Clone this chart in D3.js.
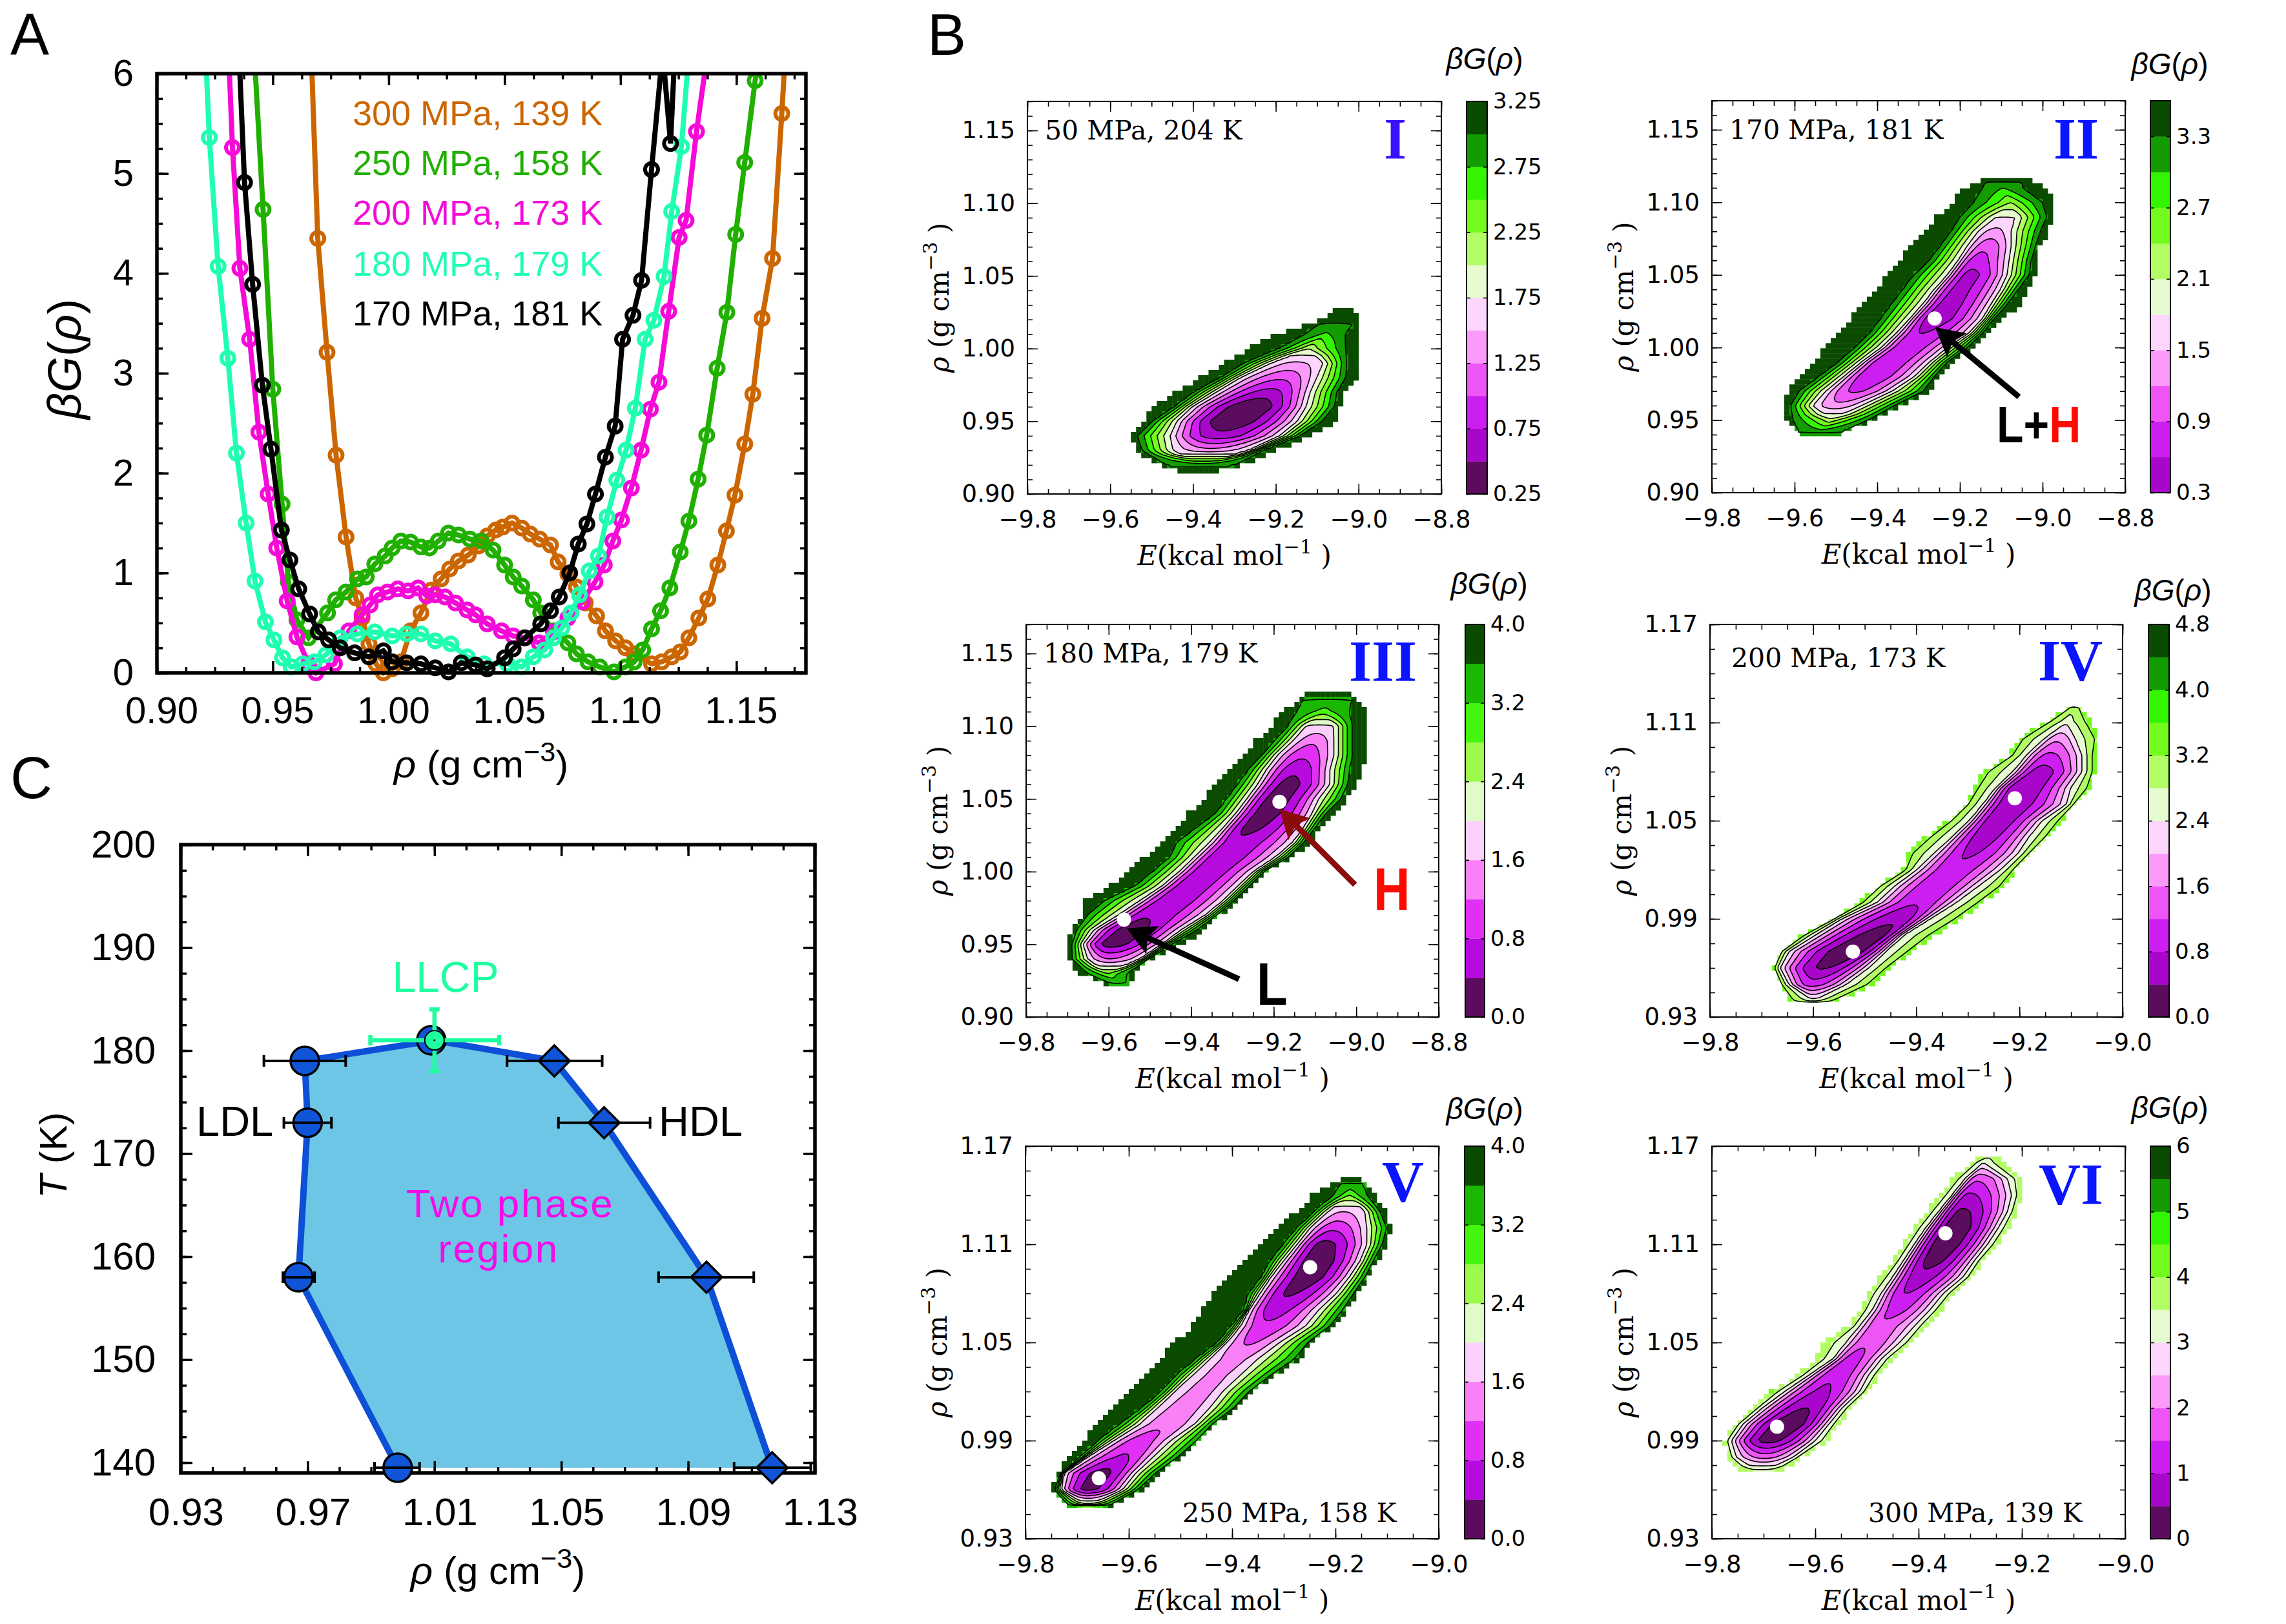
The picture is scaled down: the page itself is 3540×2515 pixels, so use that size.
<!DOCTYPE html>
<html>
<head>
<meta charset="utf-8">
<script src="https://cdn.jsdelivr.net/npm/d3@7"></script>
<style>
  html, body { margin: 0; padding: 0; background: #fff; }
  svg { display: block; }
</style>
</head>
<body>
<div id="chart"></div>
<script>
// ---- panel A: free energy profiles, [rho, betaG]
var curve300 = [[0.9669,6],[0.9694,4.35],[0.9734,3.21],[0.9773,2.18],[0.9816,1.36],[0.9858,0.75],[0.9885,0.55],[0.9915,0.29],[0.9945,0.09],[0.9977,0],[1.0015,0.04],[1.0052,0.11],[1.0094,0.42],[1.0139,0.6],[1.0184,0.83],[1.0226,0.94],[1.0263,1.04],[1.0301,1.12],[1.0343,1.18],[1.0388,1.27],[1.0425,1.37],[1.0462,1.43],[1.0492,1.46],[1.0532,1.5],[1.0574,1.45],[1.0611,1.39],[1.0651,1.34],[1.0698,1.28],[1.0731,1.11],[1.0773,0.99],[1.081,0.86],[1.0848,0.7],[1.0897,0.57],[1.0935,0.42],[1.0979,0.32],[1.1022,0.25],[1.1059,0.19],[1.1134,0.09],[1.1178,0.11],[1.1221,0.16],[1.1258,0.21],[1.1295,0.35],[1.1338,0.55],[1.1377,0.74],[1.142,1.08],[1.1457,1.42],[1.1494,1.78],[1.1536,2.29],[1.1571,2.79],[1.1611,3.55],[1.1656,4.15],[1.1696,5.6],[1.1706,6]];
var curve250 = [[0.9425,6],[0.9458,4.64],[0.95,2.84],[0.954,1.69],[0.9567,0.91],[0.9604,0.53],[0.9654,0.35],[0.9736,0.6],[0.9771,0.73],[0.9816,0.81],[0.9865,0.94],[0.9903,0.96],[0.994,1.09],[0.9985,1.17],[1.0015,1.25],[1.0052,1.32],[1.0094,1.31],[1.0139,1.26],[1.0176,1.25],[1.0214,1.32],[1.0258,1.4],[1.0301,1.38],[1.035,1.34],[1.04,1.32],[1.045,1.23],[1.05,1.08],[1.0537,0.96],[1.0574,0.87],[1.0624,0.73],[1.0656,0.6],[1.0711,0.42],[1.0773,0.3],[1.081,0.19],[1.086,0.11],[1.091,0.06],[1.0972,0.01],[1.1022,0.06],[1.1059,0.11],[1.1096,0.23],[1.1134,0.44],[1.1173,0.62],[1.1213,0.85],[1.1258,1.21],[1.1295,1.52],[1.1335,1.94],[1.1372,2.38],[1.1417,3.05],[1.1459,3.61],[1.1497,4.39],[1.1536,5.11],[1.1581,5.93],[1.1586,6]];
var curve200 = [[0.9313,6],[0.9326,5.26],[0.9358,4.05],[0.94,3.34],[0.944,2.41],[0.948,1.79],[0.9517,1.25],[0.9562,0.72],[0.9604,0.36],[0.9654,0.09],[0.9686,0],[0.9766,0.09],[0.9828,0.42],[0.9885,0.58],[0.992,0.68],[0.9952,0.78],[0.9995,0.81],[1.0039,0.84],[1.0084,0.82],[1.0127,0.85],[1.0164,0.77],[1.0201,0.78],[1.0243,0.76],[1.0288,0.7],[1.0338,0.63],[1.0375,0.58],[1.0425,0.49],[1.0487,0.42],[1.0537,0.37],[1.0587,0.35],[1.0649,0.3],[1.0711,0.41],[1.0773,0.55],[1.0835,0.71],[1.089,0.91],[1.093,1.08],[1.0967,1.32],[1.1004,1.53],[1.1047,1.85],[1.1089,2.23],[1.1129,2.64],[1.1166,2.91],[1.1208,3.62],[1.1253,4.36],[1.1283,4.53],[1.1328,5.42],[1.1363,6]];
var curve180 = [[0.9214,6],[0.9226,5.36],[0.9264,4.07],[0.9306,3.15],[0.9343,2.2],[0.9385,1.5],[0.9423,0.92],[0.9468,0.51],[0.9505,0.33],[0.9542,0.15],[0.9579,0.06],[0.9629,0.09],[0.9679,0.11],[0.9729,0.18],[0.9791,0.35],[0.9865,0.39],[0.994,0.41],[1.0015,0.37],[1.0077,0.39],[1.0139,0.39],[1.0201,0.32],[1.0268,0.29],[1.0338,0.16],[1.0412,0.09],[1.0512,0.09],[1.0574,0.06],[1.0624,0.16],[1.0673,0.23],[1.0711,0.35],[1.0748,0.45],[1.0786,0.6],[1.0823,0.78],[1.0865,1.02],[1.0905,1.17],[1.0942,1.56],[1.0984,1.93],[1.1024,2.23],[1.1064,2.65],[1.1106,3.34],[1.1144,3.53],[1.1188,3.97],[1.1221,4.62],[1.1263,5.27],[1.1288,6]];
var curve170 = [[0.9358,6],[0.9378,4.91],[0.9413,3.89],[0.9455,2.88],[0.9492,2.24],[0.9537,1.43],[0.9574,1.13],[0.9612,0.84],[0.9659,0.59],[0.9696,0.41],[0.9741,0.33],[0.9791,0.25],[0.9853,0.2],[0.9915,0.16],[0.9977,0.22],[1.0015,0.11],[1.0077,0.1],[1.0139,0.09],[1.0201,0.05],[1.0258,0.01],[1.0313,0.1],[1.0375,0.08],[1.0425,0.04],[1.05,0.15],[1.0537,0.24],[1.0587,0.35],[1.0656,0.49],[1.0698,0.62],[1.0736,0.76],[1.0781,1],[1.0818,1.29],[1.0855,1.49],[1.0892,1.79],[1.0935,2.16],[1.0977,2.47],[1.1009,3.34],[1.1054,3.58],[1.1091,3.93],[1.1134,5.04],[1.1173,6],[1.119,6],[1.1216,5.3],[1.123,6]];
var curveNames = ["300 MPa, 139 K", "250 MPa, 158 K", "200 MPa, 173 K", "180 MPa, 179 K", "170 MPa, 181 K"];
var curveColors = ["#cc6600", "#20b000", "#f50ad8", "#1fffb0", "#000000"];
var rhoTicksA = [0.90, 0.95, 1.00, 1.05, 1.10, 1.15];
var gTicksA = [0, 1, 2, 3, 4, 5, 6];

// ---- panel C: coexistence points, [rho, T, rhoLow, rhoHigh]
var ldlPoints = [[0.9984,139.5,0.9911,1.0053],[0.9671,158,0.9622,0.9722],[0.97,173,0.9625,0.9775],[0.9691,179,0.9562,0.982]];
var hdlPoints = [[1.0478,179,1.0329,1.0629],[1.0635,173,1.0491,1.078],[1.0958,158,1.0807,1.1107],[1.1165,139.5,1.1045,1.1287]];
var llcpPoint = [1.01, 181, 0.9898, 1.0304, 178, 184];
var rhoTicksC = [0.93, 0.97, 1.01, 1.05, 1.09, 1.13];
var tTicksC = [140, 150, 160, 170, 180, 190, 200];

// ---- panel B: contour maps
// columns: rho, outer edge L, dark green starts L, pale band starts L, valley E,
//          pale band starts R, dark green starts R, outer edge R, betaG in the valley
var ridgeI = [
  [0.915,-9.428,-9.428,-9.391,-9.391,-9.391,-9.354,-9.354,3.25],
  [0.92,-9.486,-9.465,-9.381,-9.381,-9.381,-9.296,-9.28,2.9],
  [0.93,-9.539,-9.523,-9.449,-9.36,-9.265,-9.233,-9.196,1.35],
  [0.94,-9.548,-9.534,-9.455,-9.339,-9.191,-9.143,-9.117,0.6],
  [0.95,-9.523,-9.497,-9.439,-9.312,-9.148,-9.09,-9.053,0.3],
  [0.96,-9.492,-9.444,-9.402,-9.259,-9.127,-9.059,-9.043,0.28],
  [0.97,-9.444,-9.397,-9.344,-9.217,-9.117,-9.053,-9.032,0.65],
  [0.98,-9.381,-9.333,-9.286,-9.185,-9.101,-9.032,-9.006,1.05],
  [0.99,-9.328,-9.275,-9.212,-9.154,-9.085,-9.03,-9.003,1.45],
  [1.00,-9.265,-9.191,-9.122,-9.122,-9.122,-9.032,-9.003,2.0],
  [1.01,-9.201,-9.127,-9.08,-9.08,-9.08,-9.032,-9.003,2.7],
  [1.02,-9.085,-9.085,-9.043,-9.043,-9.043,-9.003,-9.003,3.1],
  [1.027,-9.053,-9.053,-9.032,-9.032,-9.032,-9.011,-9.011,3.25]
];
var ridgeII = [
  [0.94,-9.588,-9.588,-9.545,-9.545,-9.545,-9.497,-9.497,3.4],
  [0.95,-9.618,-9.604,-9.513,-9.513,-9.513,-9.422,-9.406,2.2],
  [0.96,-9.627,-9.609,-9.556,-9.502,-9.438,-9.358,-9.348,1.3],
  [0.97,-9.618,-9.588,-9.524,-9.454,-9.364,-9.289,-9.268,0.85],
  [0.98,-9.588,-9.54,-9.481,-9.417,-9.31,-9.262,-9.252,0.65],
  [0.99,-9.556,-9.492,-9.438,-9.38,-9.273,-9.23,-9.22,0.62],
  [1.00,-9.524,-9.454,-9.39,-9.332,-9.23,-9.182,-9.166,0.65],
  [1.01,-9.492,-9.417,-9.353,-9.294,-9.177,-9.145,-9.134,0.6],
  [1.02,-9.465,-9.39,-9.321,-9.262,-9.145,-9.118,-9.092,0.4],
  [1.03,-9.433,-9.364,-9.289,-9.23,-9.124,-9.086,-9.054,0.45],
  [1.04,-9.401,-9.337,-9.262,-9.204,-9.102,-9.06,-9.033,0.5],
  [1.05,-9.38,-9.31,-9.23,-9.177,-9.086,-9.033,-9.017,0.5],
  [1.06,-9.348,-9.273,-9.204,-9.161,-9.081,-9.028,-9.011,0.75],
  [1.07,-9.316,-9.246,-9.182,-9.134,-9.076,-9.017,-9.006,1.0],
  [1.08,-9.289,-9.22,-9.156,-9.118,-9.076,-9.006,-8.985,1.4],
  [1.09,-9.257,-9.198,-9.113,-9.092,-9.065,-8.99,-8.974,1.8],
  [1.10,-9.22,-9.166,-9.076,-9.076,-9.076,-9.001,-8.974,2.4],
  [1.11,-9.188,-9.145,-9.097,-9.097,-9.097,-9.049,-8.99,3.0],
  [1.118,-9.134,-9.134,-9.092,-9.092,-9.092,-9.044,-9.044,3.6]
];
var ridgeIII = [
  [0.92,-9.577,-9.577,-9.566,-9.566,-9.566,-9.556,-9.556,3.95],
  [0.93,-9.672,-9.651,-9.603,-9.603,-9.603,-9.556,-9.535,2.8],
  [0.94,-9.699,-9.688,-9.651,-9.598,-9.524,-9.503,-9.498,1.2],
  [0.95,-9.704,-9.688,-9.662,-9.598,-9.471,-9.45,-9.418,0.2],
  [0.96,-9.688,-9.677,-9.635,-9.551,-9.424,-9.387,-9.366,0.2],
  [0.97,-9.667,-9.651,-9.577,-9.503,-9.366,-9.339,-9.329,0.45],
  [0.98,-9.667,-9.609,-9.524,-9.45,-9.323,-9.297,-9.292,0.5],
  [0.99,-9.598,-9.535,-9.471,-9.408,-9.286,-9.26,-9.249,0.5],
  [1.00,-9.551,-9.492,-9.429,-9.366,-9.249,-9.223,-9.218,0.5],
  [1.01,-9.514,-9.45,-9.392,-9.329,-9.196,-9.165,-9.154,0.5],
  [1.02,-9.471,-9.434,-9.355,-9.292,-9.154,-9.128,-9.112,0.5],
  [1.03,-9.44,-9.387,-9.323,-9.26,-9.128,-9.101,-9.085,0.3],
  [1.04,-9.408,-9.339,-9.292,-9.223,-9.107,-9.075,-9.054,0.2],
  [1.05,-9.371,-9.313,-9.265,-9.196,-9.091,-9.038,-9.022,0.2],
  [1.06,-9.344,-9.286,-9.239,-9.165,-9.064,-9.022,-8.996,0.25],
  [1.07,-9.307,-9.26,-9.218,-9.144,-9.064,-9.017,-8.99,0.5],
  [1.08,-9.276,-9.228,-9.191,-9.128,-9.054,-9.011,-8.971,0.9],
  [1.09,-9.244,-9.196,-9.154,-9.101,-9.054,-9.011,-8.971,1.3],
  [1.10,-9.207,-9.165,-9.122,-9.091,-9.054,-9.011,-8.971,1.9],
  [1.11,-9.181,-9.144,-9.08,-9.08,-9.08,-9.017,-8.977,3.0],
  [1.12,-9.128,-9.128,-9.064,-9.064,-9.064,-9.006,-9.006,3.7],
  [1.125,-9.112,-9.112,-9.075,-9.075,-9.075,-9.032,-9.032,4.0]
];
var ridgeIV = [
  [0.94,-9.647,-9.647,-9.6,-9.6,-9.6,-9.553,-9.553,2.6],
  [0.95,-9.664,-9.664,-9.647,-9.604,-9.536,-9.485,-9.485,1.0],
  [0.96,-9.677,-9.677,-9.664,-9.583,-9.493,-9.451,-9.451,0.35],
  [0.97,-9.664,-9.664,-9.647,-9.528,-9.459,-9.408,-9.408,0.1],
  [0.98,-9.622,-9.622,-9.596,-9.476,-9.425,-9.365,-9.365,0.2],
  [0.99,-9.562,-9.562,-9.545,-9.434,-9.374,-9.314,-9.314,0.5],
  [1.00,-9.51,-9.51,-9.476,-9.399,-9.323,-9.271,-9.271,0.85],
  [1.01,-9.476,-9.476,-9.442,-9.365,-9.28,-9.229,-9.229,0.9],
  [1.02,-9.425,-9.425,-9.399,-9.331,-9.237,-9.207,-9.207,0.9],
  [1.03,-9.417,-9.417,-9.365,-9.297,-9.203,-9.177,-9.177,0.75],
  [1.04,-9.382,-9.382,-9.331,-9.271,-9.182,-9.143,-9.143,0.6],
  [1.05,-9.34,-9.34,-9.297,-9.246,-9.156,-9.118,-9.118,0.5],
  [1.06,-9.306,-9.306,-9.271,-9.22,-9.109,-9.092,-9.092,0.5],
  [1.07,-9.288,-9.288,-9.246,-9.199,-9.101,-9.062,-9.062,0.4],
  [1.08,-9.271,-9.271,-9.212,-9.16,-9.079,-9.054,-9.054,0.6],
  [1.09,-9.22,-9.22,-9.186,-9.143,-9.079,-9.054,-9.054,1.1],
  [1.10,-9.203,-9.203,-9.152,-9.126,-9.092,-9.045,-9.045,1.7],
  [1.11,-9.152,-9.152,-9.109,-9.109,-9.109,-9.062,-9.062,2.5],
  [1.12,-9.105,-9.105,-9.092,-9.092,-9.092,-9.079,-9.079,3.0]
];
var ridgeV = [
  [0.95,-9.718,-9.718,-9.68,-9.68,-9.68,-9.638,-9.638,2.8],
  [0.96,-9.748,-9.743,-9.731,-9.68,-9.612,-9.583,-9.574,0.25],
  [0.97,-9.739,-9.731,-9.726,-9.655,-9.587,-9.549,-9.541,0.25],
  [0.98,-9.716,-9.693,-9.68,-9.612,-9.553,-9.505,-9.497,0.75],
  [0.99,-9.688,-9.659,-9.629,-9.579,-9.519,-9.469,-9.46,1.0],
  [1.00,-9.661,-9.617,-9.579,-9.528,-9.473,-9.439,-9.431,1.3],
  [1.01,-9.627,-9.574,-9.545,-9.494,-9.443,-9.397,-9.388,1.4],
  [1.02,-9.6,-9.536,-9.511,-9.46,-9.418,-9.367,-9.359,1.45],
  [1.03,-9.566,-9.507,-9.477,-9.431,-9.384,-9.325,-9.317,1.5],
  [1.04,-9.541,-9.469,-9.443,-9.397,-9.35,-9.279,-9.27,1.45],
  [1.05,-9.511,-9.427,-9.41,-9.367,-9.308,-9.253,-9.245,1.15],
  [1.06,-9.477,-9.401,-9.384,-9.338,-9.258,-9.211,-9.203,0.9],
  [1.07,-9.458,-9.376,-9.367,-9.321,-9.232,-9.186,-9.177,0.6],
  [1.08,-9.435,-9.367,-9.346,-9.291,-9.198,-9.165,-9.156,0.35],
  [1.09,-9.41,-9.342,-9.325,-9.253,-9.173,-9.143,-9.135,0.15],
  [1.10,-9.38,-9.325,-9.3,-9.236,-9.152,-9.127,-9.118,0.1],
  [1.11,-9.346,-9.3,-9.274,-9.224,-9.139,-9.11,-9.101,0.25],
  [1.12,-9.317,-9.274,-9.249,-9.203,-9.139,-9.101,-9.093,0.9],
  [1.13,-9.274,-9.241,-9.215,-9.186,-9.143,-9.114,-9.103,1.6],
  [1.14,-9.245,-9.203,-9.173,-9.173,-9.173,-9.139,-9.122,2.8],
  [1.15,-9.186,-9.186,-9.169,-9.169,-9.169,-9.148,-9.148,3.9]
];
var ridgeVI = [
  [0.97,-9.745,-9.745,-9.706,-9.706,-9.706,-9.668,-9.668,4.0],
  [0.98,-9.77,-9.77,-9.753,-9.698,-9.642,-9.625,-9.625,1.8],
  [0.99,-9.778,-9.778,-9.762,-9.693,-9.6,-9.575,-9.575,0.3],
  [1.00,-9.757,-9.757,-9.74,-9.651,-9.574,-9.555,-9.555,0.1],
  [1.01,-9.72,-9.72,-9.702,-9.617,-9.548,-9.53,-9.53,0.5],
  [1.02,-9.685,-9.685,-9.659,-9.587,-9.514,-9.497,-9.497,0.9],
  [1.03,-9.635,-9.635,-9.612,-9.561,-9.497,-9.475,-9.475,1.1],
  [1.04,-9.6,-9.6,-9.565,-9.531,-9.472,-9.45,-9.45,1.3],
  [1.05,-9.585,-9.585,-9.54,-9.497,-9.437,-9.41,-9.41,1.6],
  [1.06,-9.535,-9.535,-9.514,-9.476,-9.408,-9.385,-9.385,1.65],
  [1.07,-9.515,-9.515,-9.489,-9.446,-9.378,-9.355,-9.355,1.3],
  [1.08,-9.5,-9.5,-9.472,-9.425,-9.352,-9.33,-9.33,1.0],
  [1.09,-9.475,-9.475,-9.45,-9.399,-9.314,-9.295,-9.295,0.7],
  [1.10,-9.45,-9.45,-9.429,-9.374,-9.292,-9.275,-9.275,0.3],
  [1.11,-9.43,-9.43,-9.408,-9.352,-9.267,-9.245,-9.245,0.1],
  [1.12,-9.41,-9.41,-9.386,-9.331,-9.246,-9.225,-9.225,0.1],
  [1.13,-9.385,-9.385,-9.361,-9.318,-9.228,-9.21,-9.21,0.4],
  [1.14,-9.36,-9.36,-9.335,-9.305,-9.22,-9.2,-9.2,0.9],
  [1.15,-9.335,-9.335,-9.31,-9.284,-9.228,-9.2,-9.2,1.6],
  [1.16,-9.3,-9.3,-9.275,-9.275,-9.275,-9.235,-9.235,3.0],
  [1.165,-9.285,-9.285,-9.258,-9.258,-9.258,-9.24,-9.24,3.8]
];

var levelsI = [0.25,0.5,0.75,1,1.25,1.5,1.75,2,2.25,2.5,2.75,3,3.25];
var levelsII = [0.3,0.6,0.9,1.2,1.5,1.8,2.1,2.4,2.7,3,3.3,3.6];
var levelsIII = [0,0.4,0.8,1.2,1.6,2,2.4,2.8,3.2,3.6,4];
var levelsIV = [0,0.4,0.8,1.2,1.6,2,2.4,2.8,3.2,3.6,4,4.4,4.8];
var levelsVI = [0,0.5,1,1.5,2,2.5,3,3.5,4,4.5,5,5.5,6];
var cbTicksI = [0.25,0.75,1.25,1.75,2.25,2.75,3.25];
var cbTicksII = [0.3,0.9,1.5,2.1,2.7,3.3];
var cbTicksIII = [0,0.8,1.6,2.4,3.2,4];
var cbTicksIV = [0,0.8,1.6,2.4,3.2,4,4.8];
var cbTicksVI = [0,1,2,3,4,5,6];
var bands12 = ["#5b0c5e","#a906cb","#cd1ef2","#ee55f6","#fb9afb","#fcd6fc","#e6fbcf","#b2fd66","#73fb1d","#33f500","#129c00","#0a4b00"];
var bands10 = ["#5b0c5e","#b70ade","#e12ff5","#fa80f8","#fcd0fc","#e0fbc8","#9dfa4d","#44f50d","#1ab800","#0a4b00"];
var basinsII = [[-9.261,1.02]];
var basinsIII = [[-9.186,1.048],[-9.563,0.967]];
var basinsIV = [[-9.523,0.97],[-9.209,1.0637]];
var basinsV = [[-9.249,1.096],[-9.658,0.967]];
var basinsVI = [[-9.348,1.1167],[-9.674,0.9985]];

var W = 3540, H = 2515;
var sans = "'Liberation Sans', Arial, sans-serif";
var serif = "'DejaVu Serif', serif";
var vera = "'DejaVu Sans', sans-serif";

var svg = d3.select("#chart").append("svg").attr("width", W).attr("height", H)
  .style("background", "#fff");

// text with italic / superscript pieces
function label(g, parts, x, y, size, family, rotate) {
  var t = g.append("text")
    .attr("font-family", family).attr("font-size", size).attr("text-anchor", "middle")
    .attr("transform", "translate(" + x + "," + y + ")" + (rotate ? " rotate(-90)" : ""));
  var back = 0;
  parts.forEach(function(p) {
    var s = t.append("tspan").text(p.t);
    if (p.i) s.attr("font-style", "italic");
    if (back) { s.attr("dy", back); back = 0; }
    if (p.sup) {
      s.attr("font-size", size * 0.72).attr("dy", -size * 0.42);
      back = size * 0.42;
    }
  });
  return t;
}

function plain(g, str, x, y, size, family, color, anchor, weight) {
  return g.append("text").attr("x", x).attr("y", y).text(str)
    .attr("font-family", family).attr("font-size", size)
    .attr("fill", color || "#000").attr("text-anchor", anchor || "start")
    .attr("font-weight", weight || "normal");
}

// frame with ticks pointing in on all four sides
function frameAxes(g, x, y, o) {
  var w = x.range()[1] - x.range()[0], h = y.range()[0] - y.range()[1];
  var blank = function() { return ""; };
  function put(axis, tr) {
    return g.append("g").attr("transform", tr).call(axis).call(function(a) { a.select(".domain").remove(); })
      .call(function(a) { a.selectAll("line").attr("stroke-width", o.tickW); });
  }
  [[o.xMinor, o.minor], [o.xMajor, o.major]].forEach(function(d) {
    put(d3.axisTop(x).tickValues(d[0]).tickFormat(blank).tickSizeInner(-d[1]).tickSizeOuter(0), "translate(0,0)");
  });
  [[o.yMinor, o.minor], [o.yMajor, o.major]].forEach(function(d) {
    put(d3.axisRight(y).tickValues(d[0]).tickFormat(blank).tickSizeInner(-d[1]).tickSizeOuter(0), "translate(" + w + ",0)");
  });
  put(d3.axisBottom(x).tickValues(o.xMinor).tickFormat(blank).tickSizeInner(-o.minor).tickSizeOuter(0), "translate(0," + h + ")");
  put(d3.axisLeft(y).tickValues(o.yMinor).tickFormat(blank).tickSizeInner(-o.minor).tickSizeOuter(0), "translate(0,0)");
  var bx = put(d3.axisBottom(x).tickValues(o.xMajor).tickFormat(o.xFmt).tickSizeInner(-o.major).tickSizeOuter(0).tickPadding(o.xPad), "translate(0," + h + ")");
  var ly = put(d3.axisLeft(y).tickValues(o.yMajor).tickFormat(o.yFmt).tickSizeInner(-o.major).tickSizeOuter(0).tickPadding(o.yPad), "translate(0,0)");
  [bx, ly].forEach(function(a) {
    a.attr("font-family", o.font).attr("font-size", o.size);
  });
  bx.selectAll("text").attr("dx", o.xShift || 0);
  g.append("rect").attr("width", w).attr("height", h)
    .attr("fill", "none").attr("stroke", "#000").attr("stroke-width", o.frameW);
}

// every nth step of a tick range, kept to the domain
function minors(lo, hi, step) {
  return d3.range(Math.round((hi - lo) / step) + 1).map(function(i) { return lo + i * step; });
}

// ------------ panel A
(function() {
  var L = 243, R = 1248, T = 114, B = 1042;
  var x = d3.scaleLinear().domain([0.90, 1.18]).range([0, R - L]);
  var y = d3.scaleLinear().domain([0, 6]).range([B - T, 0]);
  var g = svg.append("g").attr("transform", "translate(" + L + "," + T + ")");
  g.append("clipPath").attr("id", "clipA").append("rect").attr("x", 0).attr("y", 0).attr("width", R - L).attr("height", B - T + 8);
  var line = d3.line().x(function(d) { return x(d[0]); }).y(function(d) { return y(d[1]); });
  [curve300, curve250, curve200, curve180, curve170].forEach(function(c, i) {
    g.append("path").datum(c).attr("d", line).attr("fill", "none")
      .attr("stroke", curveColors[i]).attr("stroke-width", 8).attr("clip-path", "url(#clipA)");
    g.selectAll("circle.c" + i).data(c.filter(function(d) { return d[1] < 6; })).enter().append("circle")
      .attr("class", "c" + i).attr("cx", function(d) { return x(d[0]); }).attr("cy", function(d) { return y(d[1]); })
      .attr("r", 10).attr("fill", "none").attr("stroke", curveColors[i]).attr("stroke-width", 6);
  });
  frameAxes(g, x, y, {
    xMajor: rhoTicksA, xMinor: minors(0.90, 1.18, 0.0125), yMajor: gTicksA, yMinor: minors(0, 6, 0.25),
    xFmt: d3.format(".2f"), yFmt: d3.format("d"), major: 18, minor: 9, tickW: 3.5, frameW: 5.5,
    xPad: 37, yPad: 36, font: sans, size: 58, xShift: 7
  });
  var lx = 546 - L, ly = [194, 271, 348, 427, 504];
  curveNames.forEach(function(n, i) {
    plain(g, n, lx, ly[i] - T, 54, sans, curveColors[i]);
  });
  label(svg, [{t: "β", i: 1}, {t: "G", i: 1}, {t: "("}, {t: "ρ", i: 1}, {t: ")"}], 125, 556, 72, sans, true);
  label(svg, [{t: "ρ", i: 1}, {t: " (g cm"}, {t: "−3", sup: 1}, {t: ")"}], 745, 1204, 60, sans);
})();

// ------------ panel C
(function() {
  var L = 280, R = 1262, T = 1308, B = 2281;
  var x = d3.scaleLinear().domain([0.93, 1.13]).range([0, R - L]);
  var y = d3.scaleLinear().domain([139, 200]).range([B - T, 0]);
  var g = svg.append("g").attr("transform", "translate(" + L + "," + T + ")");
  var top = [[llcpPoint[0], llcpPoint[1]]];
  var outline = ldlPoints.concat(top, hdlPoints);
  var line = d3.line().x(function(d) { return x(d[0]); }).y(function(d) { return y(d[1]); });
  g.append("path").datum(outline).attr("d", line).attr("fill", "#6ec6e6").attr("stroke", "none");
  g.append("path").datum(outline).attr("d", line).attr("fill", "none").attr("stroke", "#0d4fd6").attr("stroke-width", 10);
  frameAxes(g, x, y, {
    xMajor: rhoTicksC, xMinor: minors(0.93, 1.13, 0.01), yMajor: tTicksC, yMinor: minors(140, 200, 2.5),
    xFmt: d3.format(".2f"), yFmt: d3.format("d"), major: 18, minor: 9, tickW: 3.5, frameW: 5.5,
    xPad: 38, yPad: 39, font: sans, size: 60, xShift: 8
  });
  g.selectAll("circle.ldl").data(ldlPoints).enter().append("circle").attr("class", "ldl")
    .attr("cx", function(d) { return x(d[0]); }).attr("cy", function(d) { return y(d[1]); })
    .attr("r", 22).attr("fill", "#1055d8").attr("stroke", "#000").attr("stroke-width", 3.5);
  var sym = d3.symbol().type(d3.symbolSquare).size(1150);
  g.selectAll("path.hdl").data(hdlPoints).enter().append("path").attr("class", "hdl").attr("d", sym)
    .attr("transform", function(d) { return "translate(" + x(d[0]) + "," + y(d[1]) + ") rotate(45)"; })
    .attr("fill", "#1055d8").attr("stroke", "#000").attr("stroke-width", 3.5);
  ldlPoints.concat(hdlPoints).forEach(function(d) {
    var yy = y(d[1]);
    g.append("path").attr("d", "M" + x(d[2]) + "," + (yy - 9) + "V" + (yy + 9) + "M" + x(d[2]) + "," + yy + "H" + x(d[3]) + "M" + x(d[3]) + "," + (yy - 9) + "V" + (yy + 9))
      .attr("fill", "none").attr("stroke", "#000").attr("stroke-width", 4);
  });
  // critical point
  var cx = x(llcpPoint[0]), cy = y(llcpPoint[1]);
  g.append("circle").attr("cx", x(1.009)).attr("cy", cy).attr("r", 22).attr("fill", "#1055d8").attr("stroke", "#000").attr("stroke-width", 3.5);
  var xl = x(llcpPoint[2]), xh = x(llcpPoint[3]), yl = y(llcpPoint[4]), yh = y(llcpPoint[5]);
  g.append("path").attr("d", "M" + xl + "," + (cy - 8) + "V" + (cy + 8) + "M" + xl + "," + cy + "H" + xh + "M" + xh + "," + (cy - 8) + "V" + (cy + 8) +
      "M" + (cx - 8) + "," + yh + "H" + (cx + 8) + "M" + cx + "," + yh + "V" + yl + "M" + (cx - 8) + "," + yl + "H" + (cx + 8))
    .attr("fill", "none").attr("stroke", "#1fffa0").attr("stroke-width", 6.5);
  g.append("circle").attr("cx", cx).attr("cy", cy).attr("r", 15).attr("fill", "#1fffa0").attr("stroke", "#000").attr("stroke-width", 2);
  g.append("circle").attr("cx", cx).attr("cy", cy).attr("r", 1.5).attr("fill", "#000");

  plain(svg, "LLCP", 690, 1536, 66, sans, "#1fffa0", "middle");
  plain(svg, "LDL", 304, 1759, 65, sans);
  plain(svg, "HDL", 1020, 1759, 65, sans);
  // two lines, kept just far enough apart that they do not touch
  plain(svg, "Two phase", 790, 1885, 62, sans, "#f50ae8", "middle").attr("letter-spacing", 2.5);
  plain(svg, "region", 772, 1955, 62, sans, "#f50ae8", "middle").attr("letter-spacing", 2.5);
  label(svg, [{t: "T", i: 1}, {t: " (K)"}], 103, 1789, 60, sans, true);
  label(svg, [{t: "ρ", i: 1}, {t: " (g cm"}, {t: "−3", sup: 1}, {t: ")"}], 771, 2453, 60, sans);
})();

// ------------ panel B maps
function mapPanel(o) {
  var x = d3.scaleLinear().domain(o.xDomain).range([0, o.R - o.L]);
  var y = d3.scaleLinear().domain(o.yDomain).range([o.B - o.T, 0]);
  var g = svg.append("g").attr("transform", "translate(" + o.L + "," + o.T + ")");
  var levels = o.levels, bands = o.bands;

  // one interpolator per table column, across the rows
  var rhos = o.ridge.map(function(r) { return r[0]; });
  var col = d3.range(1, 9).map(function(c) {
    return d3.scaleLinear().domain(rhos).range(o.ridge.map(function(r) { return r[c]; }));
  });
  function valueAt(e, rho) {
    if (rho < rhos[0] || rho > rhos[rhos.length - 1]) return null;
    var oL = col[0](rho), gL = col[1](rho), pL = col[2](rho), c = col[3](rho),
        pR = col[4](rho), gR = col[5](rho), oR = col[6](rho), v0 = col[7](rho);
    if (e < oL || e > oR) return null;
    var left = e < c;
    var po = left ? c - pL : pR - c, gr = left ? c - gL : gR - c, ou = left ? c - oL : oR - c;
    var d = Math.abs(e - c);
    var v1 = Math.max(v0, o.gMid), v2 = Math.max(v1, o.gTop), v3 = Math.max(v2, o.gEdge);
    if (d <= po && po > 0) return v0 + (v1 - v0) * Math.pow(d / po, 2);
    if (d <= gr && gr > po) return v1 + (v2 - v1) * (d - po) / (gr - po);
    if (ou > gr) return v2 + (v3 - v2) * (d - gr) / (ou - gr);
    return v3;
  }

  var nx = 160, ny = 152;
  var dE = (o.xDomain[1] - o.xDomain[0]) / nx, dR = (o.yDomain[1] - o.yDomain[0]) / ny;
  var values = new Array(nx * ny);
  for (var j = 0; j < ny; j++) for (var i = 0; i < nx; i++) {
    var v = valueAt(o.xDomain[0] + (i + 0.5) * dE, o.yDomain[1] - (j + 0.5) * dR);
    values[j * nx + i] = -(v === null ? o.gEdge : v);
  }

  function bandColor(v) {
    var k = d3.bisectRight(levels, v) - 1;
    return bands[Math.max(0, Math.min(bands.length - 1, k))];
  }

  // stepped outer cells
  var cells = [];
  for (var bj = 0; bj < ny; bj += 2) for (var bi = 0; bi < nx; bi += 2) {
    var e0 = o.xDomain[0] + bi * dE, r0 = o.yDomain[1] - bj * dR;
    var vb = valueAt(e0 + dE, r0 - dR);
    if (vb !== null) cells.push({e: e0, r: r0, v: vb});
  }
  g.selectAll("rect.cell").data(cells).enter().append("rect").attr("class", "cell")
    .attr("x", function(d) { return x(d.e); }).attr("y", function(d) { return y(d.r); })
    .attr("width", x(dE * 2 + o.xDomain[0]) + 0.4).attr("height", y(o.yDomain[1] - dR * 2) + 0.4)
    .attr("fill", function(d) { return bandColor(d.v); });

  // filled contours, highest first
  var path = d3.geoPath(d3.geoTransform({
    point: function(gx, gy) {
      this.stream.point(x(o.xDomain[0] + gx * dE), y(o.yDomain[1] - gy * dR));
    }
  }));
  var gen = d3.contours().size([nx, ny]);
  for (var k = levels.length - 2; k >= 0; k--) {
    var level = levels[k + 1];
    if (level >= o.gEdge) continue;
    g.append("path").attr("d", path(gen.contour(values, -level)))
      .attr("fill", bands[k]).attr("stroke", "#000").attr("stroke-width", 1.6).attr("stroke-linejoin", "round");
  }

  // basins
  g.selectAll("circle.basin").data(o.basins).enter().append("circle").attr("class", "basin")
    .attr("cx", function(d) { return x(d[0]); }).attr("cy", function(d) { return y(d[1]); })
    .attr("r", 11).attr("fill", "#fff");

  frameAxes(g, x, y, {
    xMajor: o.xTicks, xMinor: minors(o.xDomain[0], o.xDomain[1], 0.05), yMajor: o.yTicks, yMinor: o.yMinor,
    xFmt: d3.format(".1f"), yFmt: d3.format(".2f"), major: 16, minor: 8, tickW: 1.6, frameW: 2,
    xPad: 26, yPad: 19, font: vera, size: 37
  });

  var w = o.R - o.L, midX = w / 2;
  label(g, [{t: "E", i: 1}, {t: "(kcal mol"}, {t: "−1", sup: 1}, {t: " )"}], midX, o.B - o.T + 110, 42, serif);
  label(g, [{t: "ρ", i: 1}, {t: " (g cm"}, {t: "−3", sup: 1}, {t: " )"}], -122, (o.B - o.T) / 2, 42, serif, true);
  plain(svg, o.note, o.noteX, o.noteY, 41, serif);
  plain(svg, o.roman, o.romanX, o.romanY, 90, "'Liberation Serif', serif", o.romanColor, "end", "bold");

  // colour bar
  var cy = d3.scaleLinear().domain([levels[0], levels[levels.length - 1]]).range([o.B - o.T, 0]);
  var bar = svg.append("g").attr("transform", "translate(" + o.cb0 + "," + o.T + ")");
  var cw = o.cb1 - o.cb0;
  bar.selectAll("rect").data(bands).enter().append("rect")
    .attr("x", 0).attr("width", cw)
    .attr("y", function(d, i) { return cy(levels[i + 1]); })
    .attr("height", function(d, i) { return cy(levels[i]) - cy(levels[i + 1]) + 0.4; })
    .attr("fill", function(d) { return d; });
  bar.append("rect").attr("width", cw).attr("height", o.B - o.T).attr("fill", "none").attr("stroke", "#000").attr("stroke-width", 2);
  var fmt = o.cbFmt;
  var ax = bar.append("g").attr("transform", "translate(" + cw + ",0)")
    .call(d3.axisRight(cy).tickValues(o.cbTicks).tickFormat(fmt).tickSizeInner(-6).tickSizeOuter(0).tickPadding(9));
  ax.select(".domain").remove();
  ax.attr("font-family", vera).attr("font-size", 34);
  ax.selectAll("line").attr("stroke-width", 1.6);
  bar.append("g").call(d3.axisLeft(cy).tickValues(o.cbTicks).tickFormat(function() { return ""; }).tickSizeInner(-6).tickSizeOuter(0))
    .call(function(a) { a.select(".domain").remove(); a.selectAll("line").attr("stroke-width", 1.6); });
  label(svg, [{t: "βG", i: 1}, {t: "("}, {t: "ρ", i: 1}, {t: ")"}], o.titleX, o.titleY, 46, sans);
  return {x: x, y: y, g: g};
}

var ticksE = [-9.8,-9.6,-9.4,-9.2,-9.0,-8.8], ticksEshort = [-9.8,-9.6,-9.4,-9.2,-9.0];
var ticksRho = [0.90,0.95,1.00,1.05,1.10,1.15], ticksRhoWide = [0.93,0.99,1.05,1.11,1.17];
var wideX = [-9.8, -8.8], shortX = [-9.8, -9.0], lowY = [0.90, 1.17], highY = [0.93, 1.17];
var minorLow = minors(0.90, 1.17, 0.01), minorHigh = minors(0.93, 1.17, 0.015);

var pI = mapPanel({ridge: ridgeI, levels: levelsI, bands: bands12, gMid: 1.75, gTop: 3.0, gEdge: 3.25, basins: [],
  L: 1591, R: 2232, T: 157, B: 765, xDomain: wideX, yDomain: lowY, xTicks: ticksE, yTicks: ticksRho, yMinor: minorLow,
  note: "50 MPa, 204 K", noteX: 1618, noteY: 216, roman: "I", romanX: 2178, romanY: 246, romanColor: "#3a10ff",
  cb0: 2271, cb1: 2303, cbTicks: cbTicksI, cbFmt: d3.format(".2f"), titleX: 2299, titleY: 107});
var pII = mapPanel({ridge: ridgeII, levels: levelsII, bands: bands12.slice(1), gMid: 1.8, gTop: 3.3, gEdge: 3.6, basins: basinsII,
  L: 2651, R: 3291, T: 156, B: 763, xDomain: wideX, yDomain: lowY, xTicks: ticksE, yTicks: ticksRho, yMinor: minorLow,
  note: "170 MPa, 181 K", noteX: 2678, noteY: 215, roman: "II", romanX: 3250, romanY: 246, romanColor: "#0a14ff",
  cb0: 3330, cb1: 3361, cbTicks: cbTicksII, cbFmt: d3.format(".1f"), titleX: 3360, titleY: 115});
var pIII = mapPanel({ridge: ridgeIII, levels: levelsIII, bands: bands10, gMid: 2.0, gTop: 3.6, gEdge: 4.0, basins: basinsIII,
  L: 1589, R: 2228, T: 967, B: 1575, xDomain: wideX, yDomain: lowY, xTicks: ticksE, yTicks: ticksRho, yMinor: minorLow,
  note: "180 MPa, 179 K", noteX: 1616, noteY: 1026, roman: "III", romanX: 2194, romanY: 1055, romanColor: "#0a14ff",
  cb0: 2269, cb1: 2299, cbTicks: cbTicksIII, cbFmt: d3.format(".1f"), titleX: 2306, titleY: 920});
var pIV = mapPanel({ridge: ridgeIV, levels: levelsIV, bands: bands12, gMid: 2.4, gTop: 3.4, gEdge: 3.4, basins: basinsIV,
  L: 2648, R: 3287, T: 967, B: 1575, xDomain: shortX, yDomain: highY, xTicks: ticksEshort, yTicks: ticksRhoWide, yMinor: minorHigh,
  note: "200 MPa, 173 K", noteX: 2681, noteY: 1033, roman: "IV", romanX: 3256, romanY: 1054, romanColor: "#0a14ff",
  cb0: 3327, cb1: 3359, cbTicks: cbTicksIV, cbFmt: d3.format(".1f"), titleX: 3365, titleY: 930});
var pV = mapPanel({ridge: ridgeV, levels: levelsIII, bands: bands10, gMid: 2.0, gTop: 3.6, gEdge: 4.0, basins: basinsV,
  L: 1588, R: 2228, T: 1775, B: 2383, xDomain: shortX, yDomain: highY, xTicks: ticksEshort, yTicks: ticksRhoWide, yMinor: minorHigh,
  note: "250 MPa, 158 K", noteX: 1831, noteY: 2357, roman: "V", romanX: 2205, romanY: 1861, romanColor: "#0a14ff",
  cb0: 2268, cb1: 2299, cbTicks: cbTicksIII, cbFmt: d3.format(".1f"), titleX: 2299, titleY: 1733});
var pVI = mapPanel({ridge: ridgeVI, levels: levelsVI, bands: bands12, gMid: 3.0, gTop: 4.0, gEdge: 4.0, basins: basinsVI,
  L: 2651, R: 3291, T: 1775, B: 2383, xDomain: shortX, yDomain: highY, xTicks: ticksEshort, yTicks: ticksRhoWide, yMinor: minorHigh,
  note: "300 MPa, 139 K", noteX: 2893, noteY: 2357, roman: "VI", romanX: 3257, romanY: 1865, romanColor: "#0a14ff",
  cb0: 3330, cb1: 3361, cbTicks: cbTicksVI, cbFmt: d3.format("d"), titleX: 3360, titleY: 1731});

// annotation arrows, ends given in axis units
function arrow(p, from, to, color) {
  var x1 = p.x(from[0]), y1 = p.y(from[1]), x2 = p.x(to[0]), y2 = p.y(to[1]);
  var a = Math.atan2(y2 - y1, x2 - x1), len = 44, wide = 24;
  function at(back, side) {
    return [x2 - back * Math.cos(a) - side * Math.sin(a), y2 - back * Math.sin(a) + side * Math.cos(a)];
  }
  var neck = at(len * 0.8, 0);
  p.g.append("line").attr("x1", x1).attr("y1", y1).attr("x2", neck[0]).attr("y2", neck[1])
    .attr("stroke", color).attr("stroke-width", 9);
  p.g.append("path").attr("d", "M" + [x2, y2] + "L" + at(len, wide) + "L" + neck + "L" + at(len, -wide) + "Z").attr("fill", color);
}
function bigLetter(str, x, y, color, size) {
  svg.append("text").text(str).attr("transform", "translate(" + x + "," + y + ") scale(0.85,1)")
    .attr("font-family", sans).attr("font-weight", "bold").attr("font-size", size).attr("fill", color);
}
arrow(pII, [-9.057, 0.966], [-9.26, 1.014], "#000");
arrow(pIII, [-9.284, 0.926], [-9.556, 0.961], "#000");
arrow(pIII, [-9.003, 0.991], [-9.186, 1.043], "#8b0a0a");
// L+H as one text, the letters sit tight
var lh = svg.append("text").attr("transform", "translate(3092,685) scale(0.85,1)")
  .attr("font-family", sans).attr("font-weight", "bold").attr("font-size", 80);
lh.append("tspan").attr("fill", "#000").text("L+");
lh.append("tspan").attr("fill", "#ff0a00").text("H");
bigLetter("L", 1946, 1556, "#000", 92);
bigLetter("H", 2127, 1409, "#ff0a00", 92);

plain(svg, "A", 16, 84, 90, sans);
plain(svg, "B", 1436, 85, 90, sans);
plain(svg, "C", 16, 1236, 90, sans);
</script>
</body>
</html>
